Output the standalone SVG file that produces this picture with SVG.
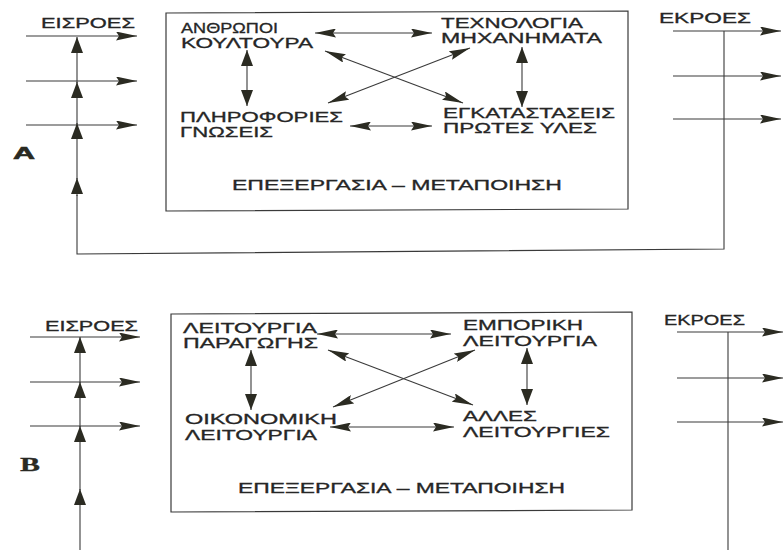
<svg xmlns="http://www.w3.org/2000/svg" width="783" height="550" viewBox="0 0 783 550">
<style>
  text { font-family: "Liberation Sans", Arial, sans-serif; font-size: 14px; fill: #262626; stroke: #262626; stroke-width: 0.3; }
  .lbl { font-family: "Liberation Sans", Arial, sans-serif; font-weight: bold; font-size: 17px; fill: #2a2a22; stroke: #2a2a22; stroke-width: 0.6; }
  .lblB { font-family: "Liberation Serif", "Times New Roman", serif; font-weight: bold; font-size: 19px; fill: #2a2a22; }
  .box { fill: none; stroke: #3a3a3a; stroke-width: 1.2; }
  .ln { fill: none; stroke: #3a3a3a; stroke-width: 1.1; }
  .h { marker-end: url(#ah); }
  .hh { marker-start: url(#ah); marker-end: url(#ah); }
  .v { marker-end: url(#av); }
  .vv { marker-start: url(#av); marker-end: url(#av); }
</style>
<defs>
  <marker id="ah" markerUnits="userSpaceOnUse" markerWidth="21" markerHeight="9" refX="21" refY="4.5" orient="auto-start-reverse" viewBox="0 0 21 9">
    <path d="M0,0 L21,4.5 L0,9 L3,4.5 z" fill="#2b2b22"/>
  </marker>
  <marker id="av" markerUnits="userSpaceOnUse" markerWidth="16" markerHeight="12" refX="16" refY="6" orient="auto-start-reverse" viewBox="0 0 16 12">
    <path d="M0,0 L16,6 L0,12 z" fill="#2b2b22"/>
  </marker>
</defs>
<rect width="783" height="550" fill="#ffffff"/>

<!-- ===== Diagram A ===== -->
<g id="boxA"><path class="box" d="M166,13 L628,11 L628,209 L166,211 Z"/></g>
<g id="labelA"><text class="lbl" x="13" y="159" textLength="22" lengthAdjust="spacingAndGlyphs">A</text></g>
<g id="inputsA"><text x="41" y="28" textLength="94" lengthAdjust="spacingAndGlyphs">ΕΙΣΡΟΕΣ</text></g>
<g id="outputsA"><text x="659" y="23" textLength="92" lengthAdjust="spacingAndGlyphs">ΕΚΡΟΕΣ</text></g>
<g id="nodeA1">
  <text x="181" y="32.5" textLength="97" lengthAdjust="spacingAndGlyphs">ΑΝΘΡΩΠΟΙ</text>
  <text x="181" y="47.5" textLength="132" lengthAdjust="spacingAndGlyphs">ΚΟΥΛΤΟΥΡΑ</text>
</g>
<g id="nodeA2">
  <text x="441" y="28" textLength="142" lengthAdjust="spacingAndGlyphs">ΤΕΧΝΟΛΟΓΙΑ</text>
  <text x="441" y="43" textLength="161" lengthAdjust="spacingAndGlyphs">ΜΗΧΑΝΗΜΑΤΑ</text>
</g>
<g id="nodeA3">
  <text x="180" y="121.5" textLength="163" lengthAdjust="spacingAndGlyphs">ΠΛΗΡΟΦΟΡΙΕΣ</text>
  <text x="180" y="136.5" textLength="93" lengthAdjust="spacingAndGlyphs">ΓΝΩΣΕΙΣ</text>
</g>
<g id="nodeA4">
  <text x="443" y="118" textLength="172" lengthAdjust="spacingAndGlyphs">ΕΓΚΑΤΑΣΤΑΣΕΙΣ</text>
  <text x="443" y="133" textLength="154" lengthAdjust="spacingAndGlyphs">ΠΡΩΤΕΣ ΥΛΕΣ</text>
</g>
<g id="processA"><text x="232" y="190" textLength="330" lengthAdjust="spacingAndGlyphs">ΕΠΕΞΕΡΓΑΣΙΑ – ΜΕΤΑΠΟΙΗΣΗ</text></g>

<!-- ===== Diagram B ===== -->
<g id="boxB"><path class="box" d="M171,314 L632,312 L632,510 L171,512 Z"/></g>
<g id="labelB"><text class="lblB" x="20" y="471" textLength="20" lengthAdjust="spacingAndGlyphs">B</text></g>
<g id="inputsB"><text x="45" y="331" textLength="93" lengthAdjust="spacingAndGlyphs">ΕΙΣΡΟΕΣ</text></g>
<g id="outputsB"><text x="664" y="325" textLength="81" lengthAdjust="spacingAndGlyphs">ΕΚΡΟΕΣ</text></g>
<g id="nodeB1">
  <text x="183" y="332.5" textLength="134" lengthAdjust="spacingAndGlyphs">ΛΕΙΤΟΥΡΓΙΑ</text>
  <text x="183" y="347.5" textLength="135" lengthAdjust="spacingAndGlyphs">ΠΑΡΑΓΩΓΗΣ</text>
</g>
<g id="nodeB2">
  <text x="463" y="330" textLength="120" lengthAdjust="spacingAndGlyphs">ΕΜΠΟΡΙΚΗ</text>
  <text x="463" y="346" textLength="134" lengthAdjust="spacingAndGlyphs">ΛΕΙΤΟΥΡΓΙΑ</text>
</g>
<g id="nodeB3">
  <text x="185" y="424" textLength="152" lengthAdjust="spacingAndGlyphs">ΟΙΚΟΝΟΜΙΚΗ</text>
  <text x="185" y="440" textLength="132" lengthAdjust="spacingAndGlyphs">ΛΕΙΤΟΥΡΓΙΑ</text>
</g>
<g id="nodeB4">
  <text x="463" y="421" textLength="74" lengthAdjust="spacingAndGlyphs">ΑΛΛΕΣ</text>
  <text x="463" y="437" textLength="147" lengthAdjust="spacingAndGlyphs">ΛΕΙΤΟΥΡΓΙΕΣ</text>
</g>
<g id="processB"><text x="238" y="493" textLength="327" lengthAdjust="spacingAndGlyphs">ΕΠΕΞΕΡΓΑΣΙΑ – ΜΕΤΑΠΟΙΗΣΗ</text></g>

<!-- ===== Connectors ===== -->
<g id="connectors">
  <!-- A: inputs -->
  <line class="ln h" x1="26" y1="36" x2="137" y2="36"/>
  <line class="ln h" x1="26" y1="81" x2="137" y2="81"/>
  <line class="ln h" x1="26" y1="125" x2="137" y2="125"/>
  <!-- A: feedback loop -->
  <path class="ln" d="M724,31 L724,249 L77,254 L77,195"/>
  <line class="ln v" x1="77" y1="196" x2="77" y2="178"/>
  <line class="ln v" x1="77" y1="179" x2="77" y2="123"/>
  <line class="ln v" x1="77" y1="124" x2="77" y2="82"/>
  <line class="ln v" x1="77" y1="83" x2="77" y2="37"/>
  <!-- A: outputs -->
  <line class="ln h" x1="673" y1="31" x2="781" y2="31"/>
  <line class="ln h" x1="673" y1="76" x2="781" y2="76"/>
  <line class="ln h" x1="673" y1="119" x2="781" y2="119"/>
  <!-- A: inner -->
  <line class="ln hh" x1="315" y1="33" x2="432" y2="33"/>
  <line class="ln hh" x1="350" y1="126" x2="432" y2="126"/>
  <line class="ln hh" x1="325" y1="51" x2="463" y2="103"/>
  <line class="ln hh" x1="328" y1="103" x2="470" y2="48"/>
  <line class="ln vv" x1="247" y1="50" x2="247" y2="106"/>
  <line class="ln vv" x1="522" y1="47" x2="522" y2="107"/>

  <!-- B: inputs -->
  <line class="ln h" x1="30" y1="337" x2="140" y2="337"/>
  <line class="ln h" x1="30" y1="382" x2="140" y2="382"/>
  <line class="ln h" x1="30" y1="426" x2="140" y2="426"/>
  <!-- B: feedback line -->
  <line class="ln" x1="80" y1="550" x2="80" y2="500"/>
  <line class="ln v" x1="80" y1="505" x2="80" y2="489"/>
  <line class="ln v" x1="80" y1="490" x2="80" y2="426"/>
  <line class="ln v" x1="80" y1="427" x2="80" y2="382"/>
  <line class="ln v" x1="80" y1="383" x2="80" y2="337"/>
  <!-- B: outputs -->
  <line class="ln" x1="728" y1="332" x2="728" y2="550"/>
  <line class="ln h" x1="677" y1="332" x2="783" y2="332"/>
  <line class="ln h" x1="677" y1="378" x2="783" y2="378"/>
  <line class="ln h" x1="677" y1="422" x2="783" y2="422"/>
  <!-- B: inner -->
  <line class="ln hh" x1="317" y1="334" x2="451" y2="334"/>
  <line class="ln hh" x1="330" y1="427" x2="454" y2="427"/>
  <line class="ln hh" x1="328" y1="350" x2="473" y2="405"/>
  <line class="ln hh" x1="333" y1="407" x2="475" y2="350"/>
  <line class="ln vv" x1="251" y1="350" x2="251" y2="410"/>
  <line class="ln vv" x1="527" y1="348" x2="527" y2="405"/>
</g>
</svg>
